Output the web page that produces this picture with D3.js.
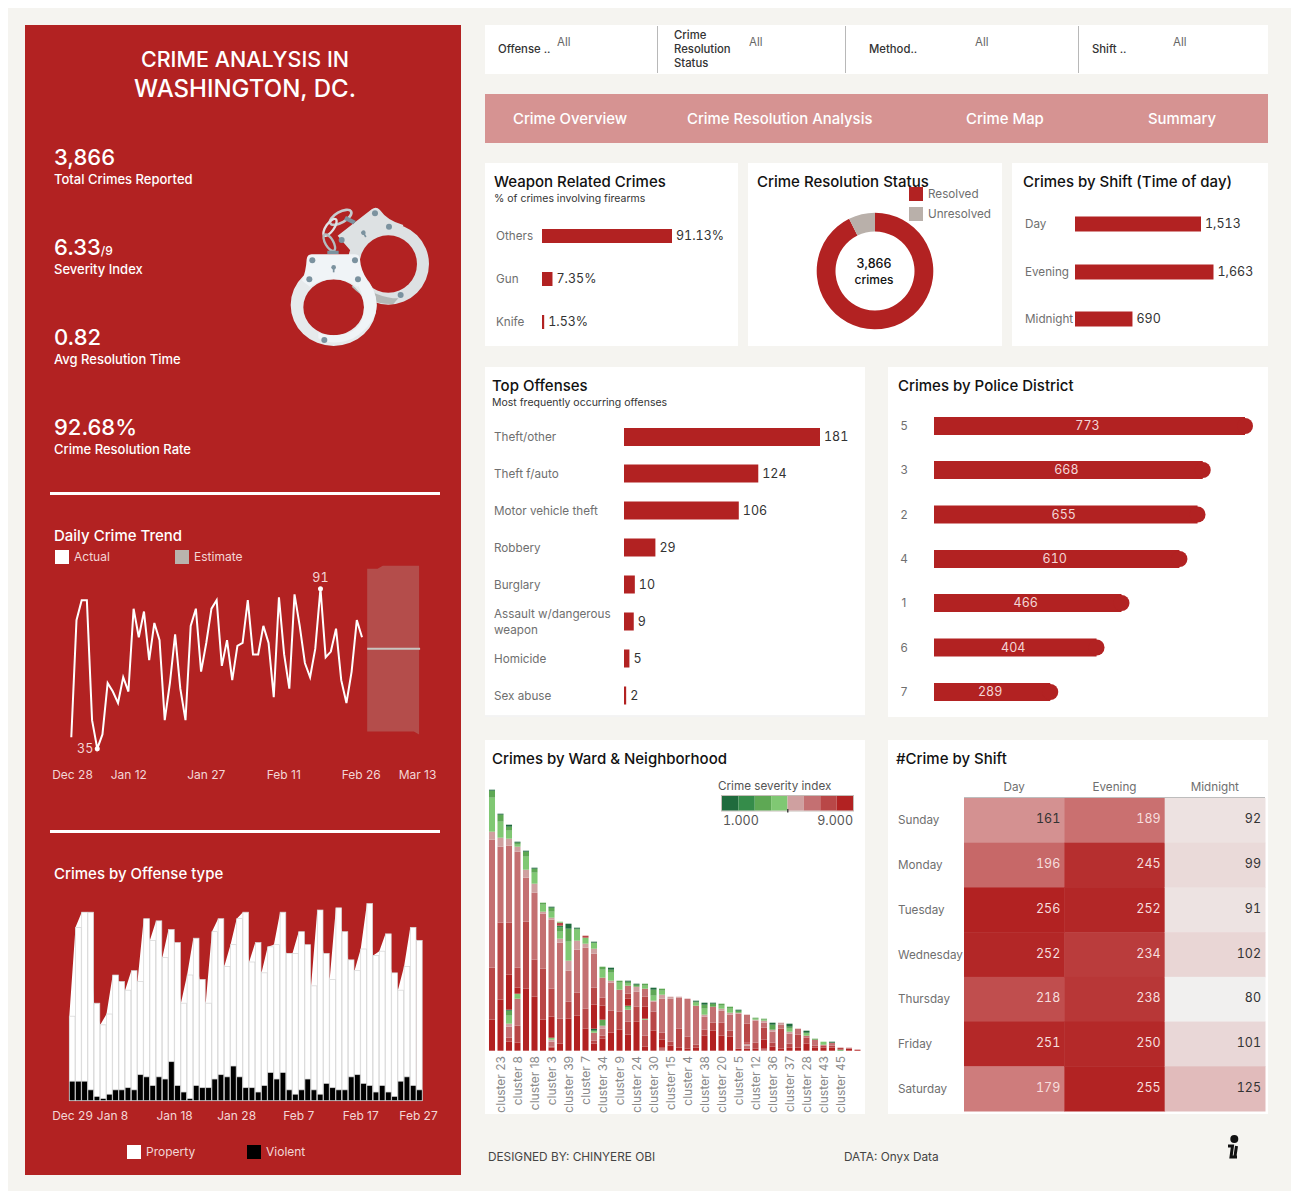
<!DOCTYPE html>
<html><head><meta charset="utf-8">
<script src="https://cdnjs.cloudflare.com/ajax/libs/d3/7.8.5/d3.min.js"></script>
<style>
html,body{margin:0;padding:0;background:#fff}
svg{display:block}
text{font-family:Inter,"Noto Sans",sans-serif}
</style></head><body>
<svg id="c" width="1299" height="1199"></svg>
<script>
// ---------- data ----------
const kpiValues = ["3,866","6.33","0.82","92.68%"];
const kpiLabels = ["Total Crimes Reported","Severity Index","Avg Resolution Time","Crime Resolution Rate"];
const filterLabels = [["Offense .."],["Crime","Resolution","Status"],["Method.."],["Shift .."]];
const navLabels = ["Crime Overview","Crime Resolution Analysis","Crime Map","Summary"];
const weaponCats = ["Others","Gun","Knife"];
const weaponVals = [91.13,7.35,1.53];
const statusCats = ["Resolved","Unresolved"];
const statusVals = [92.68,7.32];
const shiftCats = ["Day","Evening","Midnight"];
const shiftVals = [1513,1663,690];
const offenseCats = ["Theft/other","Theft f/auto","Motor vehicle theft","Robbery","Burglary","Assault w/dangerous weapon","Homicide","Sex abuse"];
const offenseVals = [181,124,106,29,10,9,5,2];
const districtCats = ["5","3","2","4","1","6","7"];
const districtVals = [773,668,655,610,466,404,289];
const dailyTotals = [39,80,87,87,45,35,40,58,55,51,60,55,84,74,83,66,79,73,45,58,75,56,45,78,84,62,72,84,87,64,73,59,71,72,87,68,68,78,72,53,88,68,56,89,78,65,60,70,91,67,69,77,59,51,62,80,74];
const dailyViolent = [9,9,9,5,2,1,3,5,5,6,5,12,11,7,11,10,18,7,4,1,7,6,6,10,12,11,16,11,6,6,4,7,13,10,13,5,3,5,10,5,3,8,6,5,5,11,12,8,7,4,7,4,2,9,11,7,5];
const estimateUpper = [98,98,98,99,99,99,99,99,99,99,99];
const estimateLower = [41,41,41,41,41,41,41,41,41,41,40];
const estimateValue = 70;
const trendTickDays = [-4,11,26,41,56,71];
const trendTickLabels = ["Dec 28","Jan 12","Jan 27","Feb 11","Feb 26","Mar 13"];
const offenseTickDays = [-3,7,17,27,37,47,57];
const offenseTickLabels = ["Dec 29","Jan 8","Jan 18","Jan 28","Feb 7","Feb 17","Feb 27"];
const clusterNames = ["","cluster 23","","cluster 8","","cluster 18","","cluster 3","","cluster 39","","cluster 7","","cluster 34","","cluster 9","","cluster 24","","cluster 30","","cluster 15","","cluster 4","","cluster 38","","cluster 20","","cluster 5","","cluster 12","","cluster 36","","cluster 37","","cluster 28","","cluster 43","","cluster 45","",""];
const clusterSegments = [
[[8,31],[7,52],[6,128],[5,8],[4,34],[3,7],[1,1]],
[[8,51],[7,77],[6,76],[5,9],[4,16],[3,7],[1,1]],
[[8,9],[7,4],[6,11],[5,3],[4,8],[3,5],[1,1],[8,35],[7,52],[6,77],[5,7],[4,8],[3,4],[1,2]],
[[8,8],[7,17],[6,27],[4,5],[8,6],[7,20],[6,116],[5,5],[4,2],[3,2],[1,1]],
[[8,62],[7,67],[6,44],[5,8],[4,13],[3,5],[1,1]],
[[8,54],[7,37],[6,67],[5,9],[4,11],[3,4],[1,1]],
[[8,31],[7,51],[6,55],[5,2],[4,7],[3,2]],
[[8,3],[7,1],[6,5],[5,2],[4,2],[8,21],[7,28],[6,69],[5,2],[4,6],[3,4],[1,1]],
[[8,7],[7,25],[6,76],[5,4],[4,7],[3,4],[2,2],[7,3],[4,1]],
[[8,32],[7,17],[6,31],[5,10],[4,19],[3,13],[1,5]],
[[8,35],[7,23],[6,43],[5,9],[4,11],[3,1],[1,1]],
[[8,22],[7,20],[6,61],[5,4],[4,6],[7,2]],
[[8,7],[7,3],[6,8],[4,2],[1,2],[8,24],[7,17],[6,34],[5,5],[4,6],[1,1]],
[[8,12],[7,3],[6,7],[5,3],[3,6],[8,14],[7,8],[6,20],[4,8],[3,3]],
[[8,18],[7,22],[6,28],[5,2],[4,8],[3,3],[1,2]],
[[8,21],[7,18],[6,22],[4,7],[3,2]],
[[8,16],[7,13],[6,12],[4,2],[3,2],[8,7],[7,5],[6,8],[4,2],[3,2],[1,1]],
[[8,29],[7,15],[6,15],[5,5],[3,2],[1,1]],
[[8,4],[7,11],[6,16],[4,1],[8,12],[7,10],[6,8],[4,3],[3,2]],
[[8,20],[7,19],[6,10],[5,1],[4,5],[3,6],[1,2]],
[[6,3],[8,8],[7,7],[6,34],[5,4],[4,4],[3,2]],
[[8,5],[7,4],[6,43],[5,2]],
[[8,3],[7,19],[6,31],[5,1]],
[[8,2],[7,12],[6,38]],
[[8,3],[7,3],[6,39],[4,3],[3,1],[1,1]],
[[8,15],[7,6],[6,13],[5,2],[4,6],[3,4],[1,2]],
[[8,20],[7,8],[6,16],[3,3],[1,1]],
[[8,15],[7,13],[6,12],[5,2],[4,3],[3,2]],
[[8,14],[7,6],[6,16],[5,2],[4,4],[3,2]],
[[8,2],[6,35],[5,1],[3,2],[1,1]],
[[8,2],[6,3],[5,2],[8,1],[7,19],[6,9]],
[[8,2],[7,6],[6,22],[5,1],[4,1],[3,1]],
[[6,2],[8,9],[7,12],[6,5],[5,2],[4,1],[3,1]],
[[8,4],[7,4],[6,11],[5,2],[3,5],[1,2]],
[[8,2],[7,20],[6,4],[5,2]],
[[8,3],[7,4],[6,10],[5,2],[4,3],[3,2],[1,3]],
[[8,3],[7,13],[6,6]],
[[8,7],[7,6],[6,2],[4,3],[1,2]],
[[8,3],[7,2],[6,6],[3,1]],
[[8,3],[7,2],[6,1],[4,3]],
[[8,3],[7,2],[6,3],[1,1]],
[[3,1],[7,2]],
[[8,2],[6,1]],
[[8,1]]
];
const severityClasses = [1,2,3,4,5,6,7,8];
const severityColors = ["#1f6b3d","#358c4a","#5ea854","#80c873","#cfa0a0","#c47072","#b94747","#b22222"];
const days = ["Sunday","Monday","Tuesday","Wednesday","Thursday","Friday","Saturday"];
const shiftCols = ["Day","Evening","Midnight"];
const heatDay = [161,196,256,252,218,251,179];
const heatEvening = [189,245,252,234,238,250,255];
const heatMidnight = [92,99,91,102,80,101,125];

// ---------- helpers ----------
const RED="#b22222", BG="#f5f4f0", INK="#111", GRAY="#6f6f6f";
const NUM=12.5, LAB=11.7, HEAD=15;
const svg=d3.select("#c");
const rect=(x,y,w,h,f)=>svg.append("rect").attr("x",x).attr("y",y).attr("width",w).attr("height",h).attr("fill",f);
const txt=(p,x,y,s,size,fill,weight,anchor)=>{
  const t=p.append("text").attr("x",x).attr("y",y).text(s)
  .attr("font-size",size).attr("fill",fill).attr("font-weight",weight||400).attr("text-anchor",anchor||"start");
  if(size===NUM) t.style("font-variant-numeric","tabular-nums");
  return t;
};
function clean(g){g.select(".domain").remove();g.selectAll(".tick line").remove();}

// backgrounds
rect(8,8,1283,1183,BG);
rect(25,25,436,1150,RED);
rect(485,25,783,49,"#fff");
[[657.5],[845.5],[1078.5]].forEach(d=>svg.append("line").attr("x1",d[0]).attr("x2",d[0]).attr("y1",26).attr("y2",73).attr("stroke","#b8b8b8"));
rect(485,94,783,49,"#d69392");
[[485,163,253,183],[748,163,254,183],[1012,163,256,183],[485,367,380,350],[888,367,380,350],[485,740,380,374],[888,740,380,374]]
  .forEach(c=>rect(c[0],c[1],c[2],c[3],"#fff"));

// filters
const filterX=[498,674,869,1092], filterAllX=[557,749,975,1173];
filterLabels.forEach((l,i)=>{
  const y0=l.length>1?39:53;
  l.forEach((s,j)=>txt(svg,filterX[i],y0+j*14,s,11.3,"#333",500));
  txt(svg,filterAllX[i],46,"All",11.5,"#666");
});
// nav
const navX=[513,687,966,1148];
navLabels.forEach((s,i)=>txt(svg,navX[i],124,s,14.9,"#fff",500));

// left panel
txt(svg,245,67,"CRIME ANALYSIS IN",21.5,"#fff",500,"middle");
txt(svg,245,97,"WASHINGTON, DC.",24,"#fff",500,"middle");
const kpiY=[165,255,345,435];
kpiValues.forEach((v,i)=>{
  const t=txt(svg,54,kpiY[i],v,22,"#fff",500);
  if(i==1) t.append("tspan").attr("font-size",12).text("/9");
  txt(svg,54,kpiY[i]+19,kpiLabels[i],13,"#fff",500);
});
rect(50,492,390,3,"#fff");
rect(50,830,390,3,"#fff");

// handcuffs (pictogram)
const cuff=svg.append("g").attr("transform","translate(270,190) scale(.3333)");
cuff.append("path").attr("fill-rule","evenodd").attr("fill","#dde1e3").attr("d",d3.arc()({innerRadius:0,outerRadius:122,startAngle:0,endAngle:2*Math.PI})).attr("transform","translate(355,222)");
cuff.append("path").attr("fill","#b3b7b6").attr("d","M245,290 Q300,345 370,342 L385,325 Q320,325 262,275Z");
cuff.append("path").attr("fill","#dde1e3").attr("d","M203,137 L305,58 Q318,47 330,60 Q352,92 400,105 L380,160 L290,170 L270,190 L240,180Z");
cuff.append("circle").attr("cx",355).attr("cy",222).attr("r",86).attr("fill",RED);
cuff.append("ellipse").attr("cx",212).attr("cy",82).attr("rx",36).attr("ry",16).attr("transform","rotate(-30 212 82)").attr("fill","none").attr("stroke","#c6cbce").attr("stroke-width",8);
cuff.append("ellipse").attr("cx",180).attr("cy",112).attr("rx",30).attr("ry",12).attr("transform","rotate(-55 180 112)").attr("fill","none").attr("stroke","#dfe3e5").attr("stroke-width",7);
cuff.append("ellipse").attr("cx",178).attr("cy",158).attr("rx",28).attr("ry",12).attr("transform","rotate(60 178 158)").attr("fill","none").attr("stroke","#b3bbbf").attr("stroke-width",7);
cuff.append("path").attr("fill","#7b929f").attr("d","M172,182h34v10h-34zM228,78l30,15-8,10-28-14z");
cuff.append("path").attr("fill-rule","evenodd").attr("fill","#e6eaec").attr("d","M62,345a129,123 0 1,0 258,0a129,123 0 1,0 -258,0Z M100,352a91,84 0 1,0 182,0a91,84 0 1,0 -182,0Z");
cuff.append("path").attr("fill-rule","evenodd").attr("fill","#f0f4f7").attr("d","M145,445 Q191,470 250,445 Q320,400 320,345 Q318,300 290,270 L264,285 Q282,320 282,352 Q282,436 191,436 Q165,436 145,428Z");
cuff.append("path").attr("fill","#f0f4f7").attr("d","M110,208 Q112,193 125,193 L255,193 Q268,193 270,208 Q272,240 292,270 L262,290 Q230,268 191,268 Q150,268 120,290 L96,272 Q108,245 110,208Z");
[[127,211],[255,211],[118,268],[264,268],[163,450],[315,70],[357,110],[215,150],[392,315]].forEach(d=>
  cuff.append("circle").attr("cx",d[0]).attr("cy",d[1]).attr("r",9).attr("fill","#7b929f"));
[[191,232,0],[280,128,-30]].forEach(d=>{
  const k=cuff.append("g").attr("transform",`translate(${d[0]},${d[1]}) rotate(${d[2]})`);
  k.append("circle").attr("r",7).attr("fill","#7b929f");
  k.append("rect").attr("x",-2.5).attr("y",0).attr("width",5).attr("height",15).attr("fill","#7b929f");
});

// daily trend
txt(svg,54,541,"Daily Crime Trend",HEAD,"#fff",500);
rect(55,550,14,14,"#fff"); txt(svg,74,561,"Actual",12,"#f3d6d6");
rect(175,550,14,14,"#b9b3ad"); txt(svg,194,561,"Estimate",12,"#f3d6d6");
const tx=d3.scaleLinear().domain([0,56]).range([71.3,362]);
const ty=d3.scaleLinear().domain([35,91]).range([748.7,588.7]);
svg.append("path").attr("fill","#b9b3ad").attr("fill-opacity",.3).attr("d",
  d3.area().x((d,i)=>tx(57+i)).y0((d,i)=>ty(estimateLower[i])).y1(d=>ty(d))(estimateUpper));
svg.append("line").attr("x1",tx(57)).attr("x2",tx(67)+1).attr("y1",ty(estimateValue)).attr("y2",ty(estimateValue)).attr("stroke","#c9c4bf").attr("stroke-width",2);
svg.append("path").attr("fill","none").attr("stroke","#fff").attr("stroke-width",2).attr("d",
  d3.line().x((d,i)=>tx(i)).y(d=>ty(d))(dailyTotals));
const mins=[5,48];
mins.forEach(i=>svg.append("circle").attr("cx",tx(i)).attr("cy",ty(dailyTotals[i])).attr("r",2.5).attr("fill","#fff"));
txt(svg,tx(5)-4,ty(35)+4,"35",NUM,"#f3d6d6",400,"end");
txt(svg,tx(48),ty(91)-7,"91",NUM,"#f3d6d6",400,"middle");
const tAxisX=d3.scaleLinear().domain([0,66.3]).range([71.5,71.5+66.3*5.2]).clamp(true);
const tA=d3.scaleLinear().domain([0.1,66.9]).range([72,417]).clamp(true);
svg.append("g").attr("transform","translate(0,770)").call(d3.axisBottom(tA).tickValues(trendTickDays).tickSize(0).tickPadding(0).tickFormat((d,i)=>trendTickLabels[i]))
  .call(clean).call(g=>g.selectAll("text").attr("font-size",12).attr("fill","#f3d6d6").attr("font-family","Inter"));

// offense type
txt(svg,54,879,"Crimes by Offense type",HEAD,"#fff",500);
const bx=d3.scaleLinear().domain([0,56]).range([69.3,69.3+56*6.2]);
const by=d3.scaleLinear().domain([0,91]).range([1100.7,903.5]);
const bw=5.7;
svg.append("path").attr("fill","#fff").attr("d",d3.area().x((d,i)=>bx(i)).y0(by(0)).y1(d=>by(d))(dailyTotals));
svg.append("g").selectAll("rect").data(dailyTotals).join("rect").attr("x",(d,i)=>bx(i)).attr("width",bw)
  .attr("y",d=>by(d)).attr("height",d=>by(0)-by(d)).attr("fill","#fff").attr("stroke","#d4d4d4").attr("stroke-width",.7);
svg.append("g").selectAll("rect").data(dailyViolent).join("rect").attr("x",(d,i)=>bx(i)).attr("width",bw)
  .attr("y",d=>by(d)).attr("height",d=>by(0)-by(d)).attr("fill","#000").attr("stroke","#d4d4d4").attr("stroke-width",.7);
const oAxisX=d3.scaleLinear().domain([0.55,56.3]).range([72,418]).clamp(true);
svg.append("g").attr("transform","translate(0,1111)").call(d3.axisBottom(oAxisX).tickValues(offenseTickDays).tickSize(0).tickPadding(0).tickFormat((d,i)=>offenseTickLabels[i]))
  .call(clean).call(g=>g.selectAll("text").attr("font-size",12).attr("fill","#f3d6d6").attr("font-family","Inter"));
rect(127,1145,14,14,"#fff"); txt(svg,146,1156,"Property",12,"#f3d6d6");
rect(247,1145,14,14,"#000"); txt(svg,266,1156,"Violent",12,"#f3d6d6");

// generic horizontal bars
function hbars(cats,vals,x0,k,ys,h,lx,fmt){
  const x=d3.scaleLinear().domain([0,d3.max(vals)]).range([x0,x0+d3.max(vals)*k]);
  vals.forEach((v,i)=>{
    svg.append("rect").attr("x",x0).attr("y",ys[i]-h/2).attr("width",x(v)-x0).attr("height",h).attr("fill",RED);
    txt(svg,x(v)+4,ys[i]+4,fmt(v),NUM,"#333");
  });
  cats.forEach((c,i)=>{ if(c) txt(svg,lx,ys[i]+4,c,LAB,GRAY); });
}
txt(svg,494,187,"Weapon Related Crimes",HEAD,INK,500);
txt(svg,494,202,"% of crimes involving firearms",10.5,"#333");
hbars(weaponCats,weaponVals,542,130/91.13,[236,279,322],14,496,d=>d.toFixed(2)+"%");

txt(svg,757,187,"Crime Resolution Status",HEAD,INK,500);
const pie=d3.pie().sort(null)(statusVals);
const arc=d3.arc().innerRadius(39.5).outerRadius(58.3);
const statusColors=[RED,"#b9b0aa"];
svg.append("g").attr("transform","translate(875,271)").selectAll("path").data(pie).join("path").attr("d",arc).attr("fill",(d,i)=>statusColors[i]);
txt(svg,874,268,"3,866",12.6,INK,500,"middle");
txt(svg,874,284,"crimes",12,INK,500,"middle");
statusCats.forEach((c,i)=>{rect(909,187+i*20,14,14,statusColors[i]);txt(svg,928,198+i*20,c,LAB,GRAY);});

txt(svg,1023,187,"Crimes by Shift (Time of day)",HEAD,INK,500);
hbars(shiftCats,shiftVals,1075,126/1513,[224,272,319],15,1025,d3.format(","));

txt(svg,492,391,"Top Offenses",HEAD,INK,500);
txt(svg,492,406,"Most frequently occurring offenses",10.5,"#333");
const oy=[437,473.5,510.5,547.5,584.5,621.5,658.5,695.5];
hbars(offenseCats.map(c=>c.startsWith("Assault")?"":c),offenseVals,624,196/181,oy,18,494,d3.format("d"));
txt(svg,494,618,"Assault w/dangerous",LAB,GRAY);
txt(svg,494,634,"weapon",LAB,GRAY);
svg.append("line").attr("x1",485).attr("x2",865).attr("y1",716).attr("y2",716).attr("stroke","#e8e8e8");

// districts
txt(svg,898,391,"Crimes by Police District",HEAD,INK,500);
const dy=[426,470,514.5,559,603,647.5,692];
const dx=d3.scaleLinear().domain([0,773]).range([934,1245]);
districtVals.forEach((v,i)=>{
  svg.append("rect").attr("x",934).attr("y",dy[i]-9).attr("width",dx(v)-934).attr("height",18).attr("fill",RED);
  svg.append("circle").attr("cx",dx(v)).attr("cy",dy[i]).attr("r",8).attr("fill",RED);
  txt(svg,(dx(v)+934)/2-2,dy[i]+4,v,NUM,"#f3d6d6",400,"middle");
  txt(svg,904,dy[i]+4,districtCats[i],LAB,GRAY,400,"middle");
});

// ward / neighbourhood
txt(svg,492,764,"Crimes by Ward & Neighborhood",HEAD,INK,500);
const cx=d3.scaleBand().domain(d3.range(clusterSegments.length)).range([487.75,487.75+44*8.5]).paddingInner(.29).paddingOuter(.145);
const cy=d3.scaleLinear().domain([0,260]).range([1050.7,790.7]);
const sevColor=d3.scaleOrdinal().domain(severityClasses).range(severityColors);
clusterSegments.forEach((segs,i)=>{
  let base=0;
  segs.forEach(s=>{
    svg.append("rect").attr("x",cx(i)).attr("width",cx.bandwidth()).attr("y",cy(base+s[1])).attr("height",cy(base)-cy(base+s[1])).attr("fill",sevColor(s[0]));
    base+=s[1];
  });
  if(clusterNames[i]) svg.append("text").attr("transform",`translate(${cx(i)+cx.bandwidth()/2+4.5},1056) rotate(-90)`)
    .attr("text-anchor","end").attr("font-size",12).attr("fill","#8a8a8a").text(clusterNames[i]);
});
txt(svg,718,790,"Crime severity index",LAB,"#555");
const lx=d3.scaleBand().domain(severityClasses).range([722,853]);
svg.append("rect").attr("x",721.5).attr("y",795.5).attr("width",132).attr("height",15.5).attr("fill","none").attr("stroke","#c5bdb8").attr("stroke-width",1);
severityClasses.forEach(c=>svg.append("rect").attr("x",lx(c)).attr("y",796).attr("width",lx.bandwidth()).attr("height",14.5).attr("fill",sevColor(c)));
rect(787,809,1.5,3.5,"#444");
txt(svg,723,825,"1.000",NUM,"#555");
txt(svg,853,825,"9.000",NUM,"#555",400,"end");

// heatmap
txt(svg,896,764,"#Crime by Shift",HEAD,INK,500);
const hx=d3.scaleBand().domain(shiftCols).range([964,1265]);
const hy=d3.scaleBand().domain(days).range([798,1111]);
const hc=d3.scaleLinear().domain([80,256]).range(["#f1f0ef",RED]);
const hv=[heatDay,heatEvening,heatMidnight];
shiftCols.forEach((c,j)=>{
  txt(svg,hx(c)+hx.bandwidth()/2,791,c,LAB,GRAY,400,"middle");
  days.forEach((d,i)=>{
    const v=hv[j][i];
    svg.append("rect").attr("x",hx(c)).attr("y",hy(d)).attr("width",hx.bandwidth()+.5).attr("height",hy.bandwidth()+.5).attr("fill",hc(v));
    txt(svg,hx(c)+hx.bandwidth()-4,hy(d)+hy.bandwidth()/2+3,v,NUM,v>=175?"#f6dede":"#333",400,"end");
  });
});
days.forEach(d=>txt(svg,898,hy(d)+hy.bandwidth()/2+4,d,LAB,GRAY));
svg.append("line").attr("x1",964).attr("x2",1265).attr("y1",797.5).attr("y2",797.5).attr("stroke","#bdbdbd");

// footer
txt(svg,488,1161,"DESIGNED BY: CHINYERE OBI",11.8,"#444");
txt(svg,844,1161,"DATA: Onyx Data",11.8,"#444");
const ic=svg.append("g");
ic.append("circle").attr("cx",1234.3).attr("cy",1139).attr("r",4).attr("fill","#111");
ic.append("path").attr("fill","none").attr("stroke","#111").attr("stroke-width",3).attr("d","M1228,1146h4.5l-1.5,11h6M1236.5,1146l-1.5,10");
</script></body></html>
